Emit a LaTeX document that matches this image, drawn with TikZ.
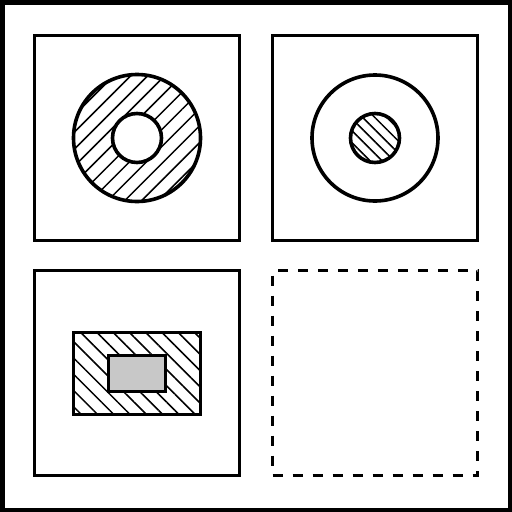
\documentclass[tikz,border=0pt]{standalone}
\usetikzlibrary{patterns.meta,positioning}
\definecolor{CoreGrey}{HTML}{C8C8C8}

\begin{document}
\begin{tikzpicture}[x=1pt, y=-1pt,
  frame/.style={draw, line width=5pt},
  panel/.style={draw, line width=3.6pt, minimum size=205pt, inner sep=0pt},
  emptypanel/.style={panel, dash pattern=on 10pt off 10pt},
  ring/.style={circle, draw, line width=3.6pt, inner sep=0pt},
  block/.style={rectangle, draw, line width=3.6pt, inner sep=0pt},
  hatchup/.style={pattern={Lines[angle=45, distance=12pt, line width=1.5pt]}},
  hatchdown/.style={pattern={Lines[angle=-45, distance=11.5pt, line width=1.5pt]}},
  hatchfine/.style={pattern={Lines[angle=-45, distance=8.5pt, line width=1.5pt]}}
]
\useasboundingbox (0,0) rectangle (512,512);
\draw[frame] (2,2) rectangle (510,510);
% four panels
\node[panel] (ringpanel) at (137,138) {};
\node[panel] (corepanel) at (375,138) {};
\node[panel] (blockpanel) at (137,373) {};
\node[emptypanel] (blankpanel) at (375,373) {};
% hatched ring with open hole
\node[ring, hatchup, minimum size=127pt] (ringouter) at (ringpanel.center) {};
\node[ring, fill=white, minimum size=49pt] (ringhole) at (ringouter.center) {};
% open ring with hatched core
\node[ring, minimum size=126pt] (coreouter) at (corepanel.center) {};
\node[ring, hatchfine, minimum size=49pt] (coreinner) at (coreouter.center) {};
% hatched block with grey insert
\node[block, hatchdown, minimum width=127pt, minimum height=82pt] (blockouter) at ([yshift=-0.5pt]blockpanel.center) {};
\node[block, fill=CoreGrey, minimum width=57pt, minimum height=36pt] (blockinner) at (blockouter.center) {};
\end{tikzpicture}
\end{document}
